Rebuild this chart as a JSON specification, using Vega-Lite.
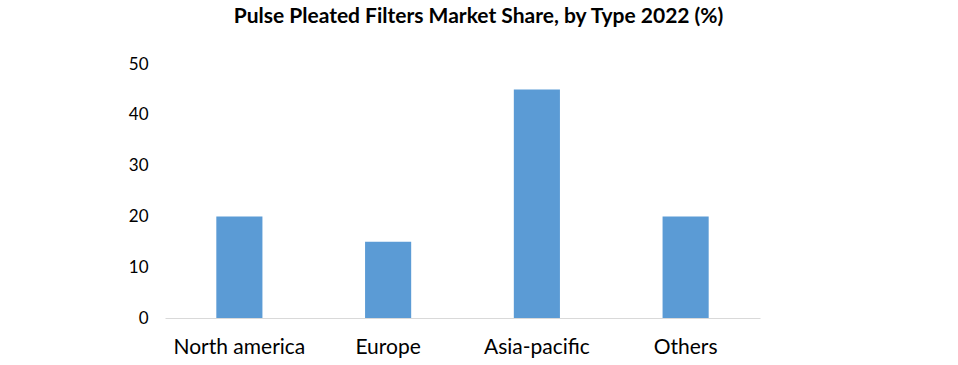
{
  "$schema": "https://vega.github.io/schema/vega-lite/v6.json",
  "width": 595,
  "height": 254,
  "autosize": {"type": "none"},
  "padding": {"left": 165, "top": 64, "right": 198, "bottom": 47},
  "background": "white",
  "title": {
    "text": "Pulse Pleated Filters Market Share, by Type 2022 (%)",
    "font": "Lato",
    "fontSize": 21,
    "fontWeight": "bold",
    "color": "#000000",
    "anchor": "middle",
    "dx": 16,
    "offset": 28
  },
  "data": {
    "values": [
      {"region": "North america", "share": 20},
      {"region": "Europe", "share": 15},
      {"region": "Asia-pacific", "share": 45},
      {"region": "Others", "share": 20}
    ]
  },
  "mark": {"type": "bar", "color": "#5B9BD5"},
  "encoding": {
    "x": {
      "field": "region",
      "type": "nominal",
      "sort": null,
      "scale": {"paddingInner": 0.69, "paddingOuter": 0.345},
      "axis": {
        "title": null,
        "labelAngle": 0,
        "labelFont": "Lato",
        "labelFontSize": 21,
        "labelColor": "#000000",
        "labelPadding": 18,
        "ticks": false,
        "domainColor": "#d9d9d9",
        "domainWidth": 1
      }
    },
    "y": {
      "field": "share",
      "type": "quantitative",
      "scale": {"domain": [0, 50]},
      "axis": {
        "title": null,
        "values": [0, 10, 20, 30, 40, 50],
        "grid": false,
        "domain": false,
        "ticks": false,
        "labelFont": "Lato",
        "labelFontSize": 17,
        "labelColor": "#000000",
        "labelPadding": 17
      }
    }
  },
  "config": {"view": {"stroke": null}}
}
